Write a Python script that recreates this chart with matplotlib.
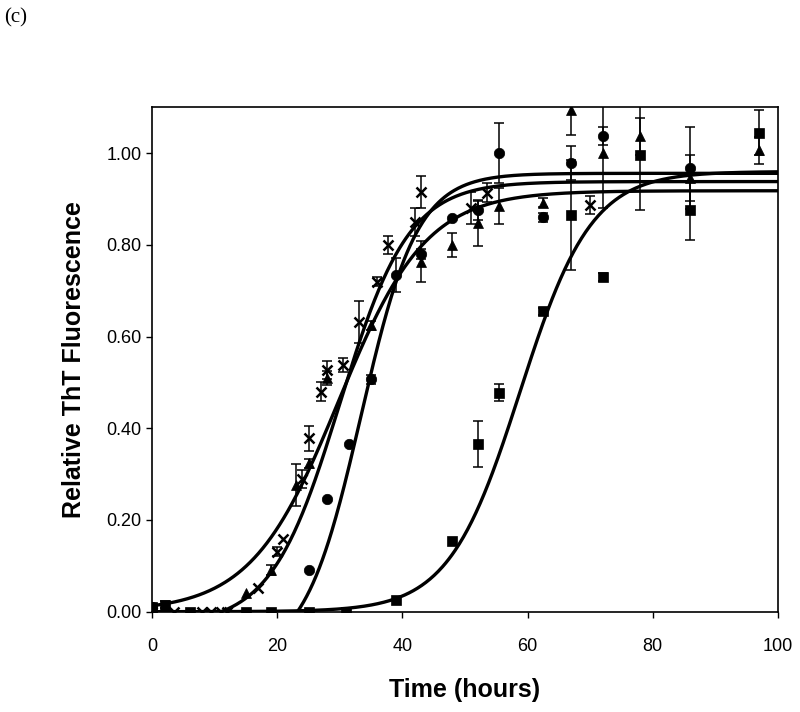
import numpy as np
import matplotlib.pyplot as plt
from matplotlib.ticker import FormatStrFormatter

plt.rcParams["font.family"] = ["Liberation Sans", "DejaVu Sans"]

# squares
sq_t = [0, 2, 6, 15, 19, 25, 31, 39, 48, 52, 55.5, 62.5, 67, 72, 78, 86, 97]
sq_y = [0.01, 0.015, 0.0, 0.0, 0.0, 0.0, 0.0, 0.025, 0.155, 0.365, 0.478, 0.655,
        0.865, 0.73, 0.995, 0.875, 1.045]
sq_e = [0.005, 0.008, 0, 0, 0, 0, 0, 0, 0, 0.05, 0.018, 0.008, 0.12, 0.008,
        0.12, 0.065, 0.05]

# circles
ci_t = [0, 25, 28, 31.5, 35, 39, 43, 48, 52, 55.5, 62.5, 67, 72, 86]
ci_y = [0.01, 0.09, 0.245, 0.365, 0.507, 0.734, 0.78, 0.858, 0.875, 1.0, 0.86,
        0.978, 1.037, 0.968]
ci_e = [0.005, 0, 0, 0, 0.01, 0.037, 0.01, 0, 0.02, 0.065, 0.01, 0.037, 0.02,
        0.09]

# triangles
tr_t = [0, 15, 19, 23, 25, 28, 35, 43, 48, 52, 55.5, 62.5, 67, 72, 78, 86, 97]
tr_y = [0.01, 0.041, 0.091, 0.276, 0.324, 0.51, 0.625, 0.763, 0.80, 0.848,
        0.885, 0.892, 1.094, 1.0, 1.037, 0.945, 1.006]
tr_e = [0, 0, 0.01, 0.045, 0.01, 0.015, 0.01, 0.045, 0.026, 0.05, 0.04, 0.01,
        0.055, 0.12, 0.04, 0.05, 0.03]

# crosses
cr_t = [0, 3.5, 8, 9.5, 11, 12, 17, 20, 21, 24, 25, 27, 28, 30.5, 33, 36,
        37.7, 42, 43, 51, 53.5, 70]
cr_y = [0.0, 0.0, 0.0, 0.0, 0.0, 0.0, 0.051, 0.131, 0.158, 0.29, 0.378, 0.48,
        0.527, 0.538, 0.632, 0.72, 0.80, 0.85, 0.916, 0.88, 0.914, 0.887]
cr_e = [0, 0, 0, 0, 0, 0, 0, 0.01, 0, 0.02, 0.027, 0.02, 0.02, 0.015, 0.045,
        0.01, 0.02, 0.03, 0.035, 0.035, 0.02, 0.02]

# sigmoid fits: y0, a, x0, b
fit_sq = [0.0, 0.96, 58.8, 5.7]
fit_ci = [-0.1, 1.056, 33.4, 4.5]
fit_tr = [0.0, 0.918, 29.8, 7.0]
fit_cr = [-0.03, 0.968, 30.0, 5.5]


def sigmoid(t, y0, a, x0, b):
    return y0 + a / (1 + np.exp(-(t - x0) / b))


fig = plt.figure(figsize=(8, 7.12), dpi=100)
ax = fig.add_axes([0.19, 0.1409, 0.7825, 0.7084])

t_fit = np.linspace(0, 100, 600)
for p in [fit_sq, fit_ci, fit_tr, fit_cr]:
    ax.plot(t_fit, sigmoid(t_fit, *p), color="black", lw=2.4)

series = [
    (sq_t, sq_y, sq_e, "s", 7.0),
    (ci_t, ci_y, ci_e, "o", 7.5),
    (tr_t, tr_y, tr_e, "^", 7.5),
    (cr_t, cr_y, cr_e, "x", 6.5),
]
for t, y, e, m, ms in series:
    t = np.array(t)
    y = np.array(y)
    e = np.array(e)
    has = e > 0
    ax.errorbar(t[has], y[has], yerr=e[has], fmt="none", ecolor="black",
                elinewidth=1.1, capsize=3.6, capthick=1.1)
    ax.plot(t, y, m, color="black", ms=ms, mew=1.8 if m == "x" else 0.5)

ax.set_xlim(0, 100)
ax.set_ylim(0, 1.1)
ax.set_xticks(range(0, 101, 20))
ax.set_yticks(np.arange(0, 1.01, 0.2))
ax.yaxis.set_major_formatter(FormatStrFormatter("%.2f"))
for s in ax.spines.values():
    s.set_linewidth(1.2)
ax.tick_params(direction="out", length=4.3, width=1.0, labelsize=13)
ax.tick_params(axis="x", pad=15)
ax.tick_params(axis="y", pad=3)

ax.set_xlabel("Time (hours)", fontsize=18, fontweight="bold", labelpad=16)
ax.set_ylabel("Relative ThT Fluorescence", fontsize=18, fontweight="bold",
              labelpad=15)

fig.text(4 / 800, 1 - 8 / 712, "(c)", family="Liberation Serif", fontsize=15,
         va="top", ha="left")

fig.savefig("out.png", dpi=100)
